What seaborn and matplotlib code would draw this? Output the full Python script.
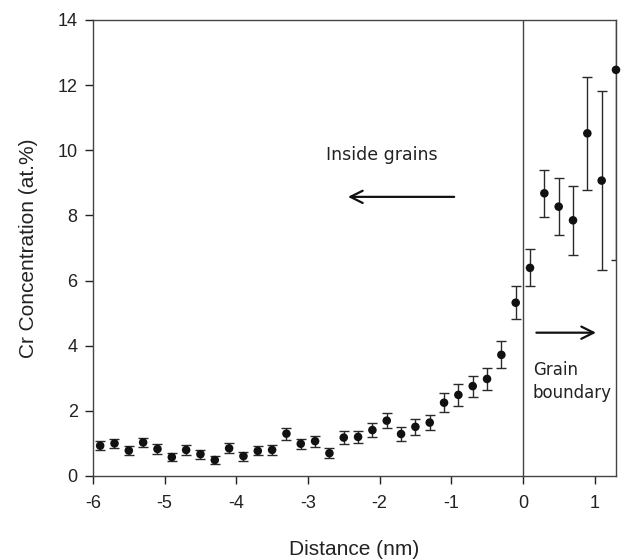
import numpy as np
import pandas as pd
import matplotlib
matplotlib.use("Agg")
import matplotlib.pyplot as plt
import seaborn as sns

distance = [-5.9, -5.7, -5.5, -5.3, -5.1, -4.9, -4.7, -4.5, -4.3, -4.1,
            -3.9, -3.7, -3.5, -3.3, -3.1, -2.9, -2.7, -2.5, -2.3, -2.1,
            -1.9, -1.7, -1.5, -1.3, -1.1, -0.9, -0.7, -0.5, -0.3, -0.1,
            0.1, 0.3, 0.5, 0.7, 0.9, 1.1, 1.3]
cr_conc = [0.93, 1.0, 0.78, 1.03, 0.83, 0.58, 0.8, 0.67, 0.49, 0.85,
           0.61, 0.77, 0.8, 1.3, 0.99, 1.07, 0.7, 1.18, 1.2, 1.41,
           1.7, 1.29, 1.51, 1.64, 2.25, 2.49, 2.76, 2.98, 3.72, 5.32,
           6.39, 8.68, 8.27, 7.85, 10.52, 9.07, 12.47]
cr_err = [0.14, 0.14, 0.14, 0.15, 0.14, 0.13, 0.14, 0.14, 0.12, 0.15,
          0.14, 0.14, 0.15, 0.18, 0.16, 0.17, 0.15, 0.19, 0.18, 0.21,
          0.24, 0.22, 0.24, 0.24, 0.29, 0.33, 0.32, 0.35, 0.41, 0.5,
          0.57, 0.73, 0.87, 1.06, 1.73, 2.74, 5.84]

x_ticks = [-6, -5, -4, -3, -2, -1, 0, 1]
y_ticks = [0, 2, 4, 6, 8, 10, 12, 14]

df = pd.DataFrame({"distance": distance, "cr": cr_conc, "err": cr_err})

sns.set_style("ticks")
plt.rcParams["font.family"] = ["Liberation Sans", "DejaVu Sans"]

fig = plt.figure(figsize=(6.24, 5.59), dpi=100)
ax = fig.add_axes([93 / 624, 1 - 476 / 559, (616 - 93) / 624, (476 - 20) / 559])

ax.errorbar(df["distance"], df["cr"], yerr=df["err"], fmt="none",
            ecolor="#2a2a2a", elinewidth=1.0, capsize=3.5, capthick=1.0, zorder=2)
sns.scatterplot(data=df, x="distance", y="cr", ax=ax, color="#111111",
                s=38, edgecolor="none", zorder=3, legend=False, clip_on=False)

ax.axvline(0, color="#444444", lw=1.0, zorder=1)

ax.set_xlim(-6, 1.3)
ax.set_ylim(0, 14)
ax.set_xticks(x_ticks)
ax.set_xticklabels([str(t) for t in x_ticks])
ax.set_yticks(y_ticks)
ax.set_yticklabels([str(t) for t in y_ticks])
ax.tick_params(direction="out", length=6, width=1, labelsize=13, colors="#222222")
ax.tick_params(axis="x", pad=8)
ax.tick_params(axis="y", pad=5)
for s in ax.spines.values():
    s.set_visible(True)
    s.set_color("#444444")
    s.set_linewidth(1.0)

ax.set_xlabel("Distance (nm)", fontsize=15, labelpad=20, color="#222222")
ax.set_ylabel("Cr Concentration (at.%)", fontsize=15, labelpad=14, color="#222222")

ax.annotate("", xy=(-2.48, 8.57), xytext=(-0.92, 8.57),
            arrowprops=dict(arrowstyle="->", lw=1.6, color="#111111", mutation_scale=22))
ax.text(-1.97, 9.86, "Inside grains", fontsize=12.5, family="DejaVu Sans",
        ha="center", va="center", color="#222222")
ax.annotate("", xy=(1.06, 4.4), xytext=(0.15, 4.4),
            arrowprops=dict(arrowstyle="->", lw=1.6, color="#111111", mutation_scale=22))
ax.text(0.14, 2.9, "Grain\nboundary", fontsize=12, family="DejaVu Sans",
        ha="left", va="center", color="#222222", linespacing=1.3)

fig.savefig("out.png", dpi=100)
